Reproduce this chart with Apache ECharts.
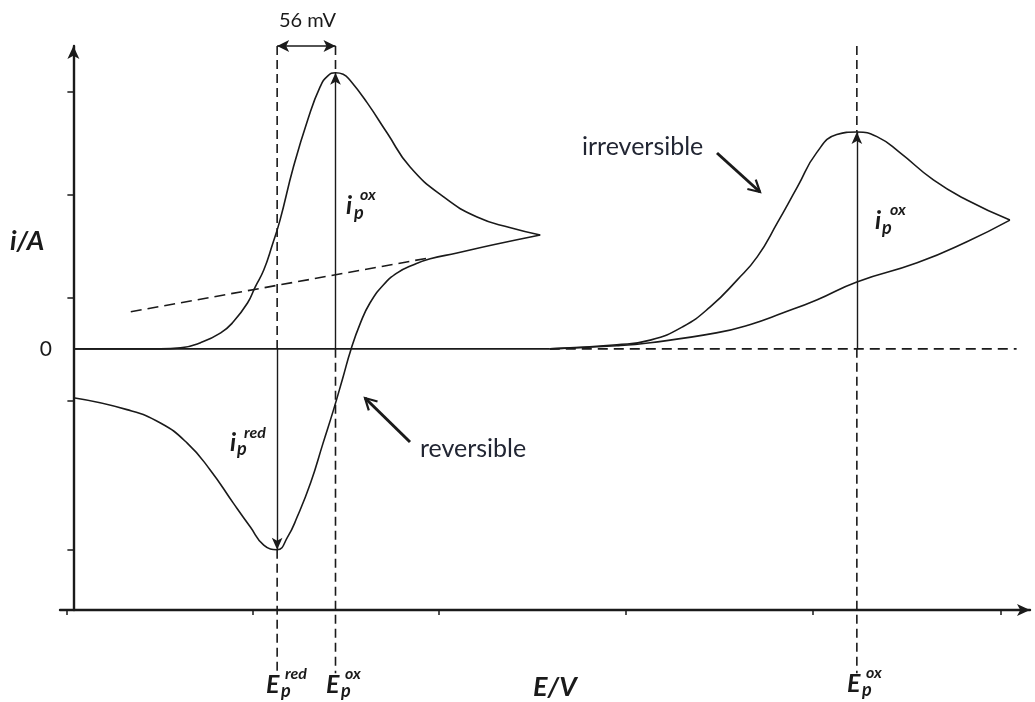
<!DOCTYPE html>
<html>
<head>
<meta charset="utf-8">
<title>Cyclic voltammogram</title>
<script src="https://cdn.jsdelivr.net/npm/echarts@6/dist/echarts.min.js"></script>
<style>
  html, body { margin: 0; padding: 0; background: #fff; }
  #chart { width: 1035px; height: 702px; }
</style>
</head>
<body>
<div id="chart"></div>
<script>
// potentials (V) and currents (arb.)
const revForwardE = [0.000, 0.049, 0.091, 0.112, 0.133, 0.154, 0.167, 0.182, 0.190, 0.199, 0.208, 0.216, 0.230, 0.245, 0.258, 0.266, 0.274, 0.282, 0.289, 0.307, 0.328, 0.352, 0.387, 0.422, 0.457, 0.488]
const revForwardI = [0.00, 0.00, 0.00, 0.02, 0.12, 0.31, 0.52, 0.89, 1.20, 1.53, 2.02, 2.50, 3.53, 4.45, 5.09, 5.30, 5.36, 5.33, 5.22, 4.78, 4.19, 3.53, 2.95, 2.56, 2.35, 2.21]
const revReturnE = [0.488, 0.439, 0.401, 0.373, 0.355, 0.339, 0.324, 0.310, 0.300, 0.290, 0.282, 0.272, 0.261, 0.248, 0.234, 0.224, 0.213, 0.199, 0.185, 0.167, 0.143, 0.119, 0.091, 0.056, 0.000]
const revReturnI = [2.21, 2.02, 1.86, 1.75, 1.63, 1.48, 1.24, 0.89, 0.50, -0.02, -0.54, -1.18, -1.83, -2.60, -3.26, -3.65, -3.90, -3.81, -3.46, -2.99, -2.35, -1.83, -1.44, -1.18, -0.95]

const irrForwardE = [0.498, 0.568, 0.603, 0.637, 0.666, 0.694, 0.715, 0.736, 0.757, 0.777, 0.798, 0.819, 0.840, 0.864, 0.899, 0.934, 0.979]
const irrForwardI = [0.00, 0.08, 0.17, 0.43, 0.82, 1.34, 1.79, 2.45, 3.15, 3.81, 4.16, 4.21, 4.12, 3.81, 3.28, 2.89, 2.50]
const irrReturnE = [0.979, 0.934, 0.882, 0.819, 0.777, 0.742, 0.707, 0.672, 0.603, 0.568, 0.498]
const irrReturnI = [2.50, 2.08, 1.67, 1.30, 0.95, 0.70, 0.47, 0.31, 0.12, 0.06, 0.00]

// extrapolated capacitive baseline under the reversible peak
const baselineE = [0.060, 0.373]
const baselineI = [0.72, 1.77]

const xTicks = [-0.007, 0.188, 0.382, 0.577, 0.773, 0.969]
const yTicks = [5, 3, 1, -1, -3.9]
const zeroEnd = 0.986
const separationText = '56 mV'

const X_MIN = -0.014, X_MAX = 1.0
const Y_MIN = -5.07, Y_MAX = 5.88
const DROP = -6.3   // dashed peak markers run below the E axis
const INK = '#1a1a1a'
const FONT = 'Lato, "Open Sans", sans-serif'

const zip = (E, I) => E.map((e, k) => [e, I[k]])
const peakAt = (E, I, sign) => {
  let k = 0
  I.forEach((v, j) => { if (sign * v > sign * I[k]) k = j })
  return [E[k], I[k]]
}
const revOx = peakAt(revForwardE, revForwardI, 1)
const revRed = peakAt(revReturnE, revReturnI, -1)
const irrOx = peakAt(irrForwardE, irrForwardI, 1)

const curve = (name, data) => ({
  name, type: 'line', data, smooth: 0.5, symbol: 'none',
  lineStyle: { color: INK, width: 1.6 }
})
const dashed = (name, data, dash) => ({
  name, type: 'line', data, symbol: 'none', clip: false,
  lineStyle: { color: INK, width: 1.6, type: dash || [9, 5] }
})

const BI = { fontWeight: 'bold', fontStyle: 'italic' }
function txt(left, y, text, size, extra) {
  return {
    type: 'text', x: left, y,
    style: Object.assign({ text, fontSize: size, fontFamily: FONT, fill: INK, verticalAlign: 'middle' }, extra || {})
  }
}
// open-headed pointer arrow used for the text call-outs
function pointer(x1, y1, x2, y2) {
  const a = Math.atan2(y2 - y1, x2 - x1), h = 13, w = 0.5
  const p1 = [x2 - h * Math.cos(a - w), y2 - h * Math.sin(a - w)]
  const p2 = [x2 - h * Math.cos(a + w), y2 - h * Math.sin(a + w)]
  return [
    { type: 'line', shape: { x1, y1, x2, y2 }, style: { stroke: INK, lineWidth: 3 } },
    { type: 'polyline', shape: { points: [p1, [x2, y2], p2] }, style: { stroke: INK, lineWidth: 2.2, fill: null } }
  ]
}

const chart = echarts.init(document.getElementById('chart'))
chart.setOption({
  animation: false,
  backgroundColor: '#fff',
  grid: { left: 60, right: 5, top: 46, bottom: 92, outerBoundsMode: 'none' },
  xAxis: {
    type: 'value', min: X_MIN, max: X_MAX,
    axisLine: { onZero: false, symbol: ['none', 'arrow'], symbolSize: [9, 13], lineStyle: { color: INK, width: 2.4 } },
    axisTick: { show: true, customValues: xTicks, length: 5, lineStyle: { color: INK, width: 1.5 } },
    axisLabel: { show: false },
    splitLine: { show: false }
  },
  yAxis: {
    type: 'value', min: Y_MIN, max: Y_MAX,
    axisLine: { onZero: true, symbol: ['none', 'arrow'], symbolSize: [9, 13], lineStyle: { color: INK, width: 2.4 } },
    axisTick: { show: true, customValues: yTicks, length: 6, lineStyle: { color: INK, width: 1.5 } },
    axisLabel: { customValues: [0], formatter: () => '0', fontSize: 21, color: INK, fontFamily: FONT, margin: 8 },
    splitLine: { show: false }
  },
  series: [
    curve('reversible forward', zip(revForwardE, revForwardI)),
    curve('reversible return', zip(revReturnE, revReturnI)),
    curve('irreversible forward', zip(irrForwardE, irrForwardI)),
    curve('irreversible return', zip(irrReturnE, irrReturnI)),
    {
      name: 'zero', type: 'line', symbol: 'none',
      data: [[0, 0], [irrForwardE[0], 0]],
      lineStyle: { color: INK, width: 1.8 },
      markLine: {
        silent: true, symbol: ['none', 'arrow'], symbolSize: [8, 12],
        label: { show: false },
        lineStyle: { type: 'solid', color: INK, width: 1.4 },
        data: [
          [{ coord: [revOx[0], 0] }, { coord: revOx }],
          [{ coord: [revRed[0], 0] }, { coord: revRed }],
          [{ coord: [irrOx[0], 0] }, { coord: irrOx }]
        ]
      }
    },
    dashed('zero dashed', [[irrForwardE[0], 0], [zeroEnd, 0]], [10, 6]),
    dashed('baseline', zip(baselineE, baselineI), [11, 6]),
    {
      name: 'separation', type: 'line', symbol: 'none', data: [],
      markLine: {
        silent: true, symbol: ['arrow', 'arrow'], symbolSize: [9, 12],
        label: { show: false },
        lineStyle: { type: 'solid', color: INK, width: 1.5 },
        data: [[{ coord: [revRed[0], Y_MAX] }, { coord: [revOx[0], Y_MAX] }]]
      }
    },
    // peak markers
    dashed('Ered top', [[revRed[0], Y_MAX], [revRed[0], 0]]),
    dashed('Ered bottom', [[revRed[0], revRed[1]], [revRed[0], DROP]]),
    dashed('Eox top', [[revOx[0], Y_MAX], [revOx[0], revOx[1]]]),
    dashed('Eox bottom', [[revOx[0], 0], [revOx[0], DROP]]),
    dashed('irr top', [[irrOx[0], Y_MAX], [irrOx[0], irrOx[1]]]),
    dashed('irr bottom', [[irrOx[0], 0], [irrOx[0], DROP]])
  ],
  graphic: [
    txt(279, 21, separationText, 20),
    txt(10, 241, 'i/A', 27, BI),
    txt(533, 687, 'E/V', 27, BI),
    // i_p labels
    txt(346, 206, 'i', 25, BI), txt(354, 213, 'p', 18, BI), txt(360, 195, 'ox', 16, BI),
    txt(230, 443, 'i', 25, BI), txt(237, 449, 'p', 18, BI), txt(244, 433, 'red', 16, BI),
    txt(875, 221, 'i', 25, BI), txt(882, 228, 'p', 18, BI), txt(890, 210, 'ox', 16, BI),
    // E_p labels
    txt(266, 685, 'E', 25, BI), txt(281, 691, 'p', 18, BI), txt(285, 674, 'red', 16, BI),
    txt(326, 685, 'E', 25, BI), txt(341, 691, 'p', 18, BI), txt(345, 674, 'ox', 16, BI),
    txt(847, 684, 'E', 25, BI), txt(862, 690, 'p', 18, BI), txt(866, 673, 'ox', 16, BI),
    // call-outs
    txt(420, 449, 'reversible', 25, { fill: '#222633' }),
    txt(582, 147, 'irreversible', 25, { fill: '#222633' }),
    ...pointer(410, 442, 365, 398),
    ...pointer(717, 153, 760, 192)
  ]
})
</script>
</body>
</html>
